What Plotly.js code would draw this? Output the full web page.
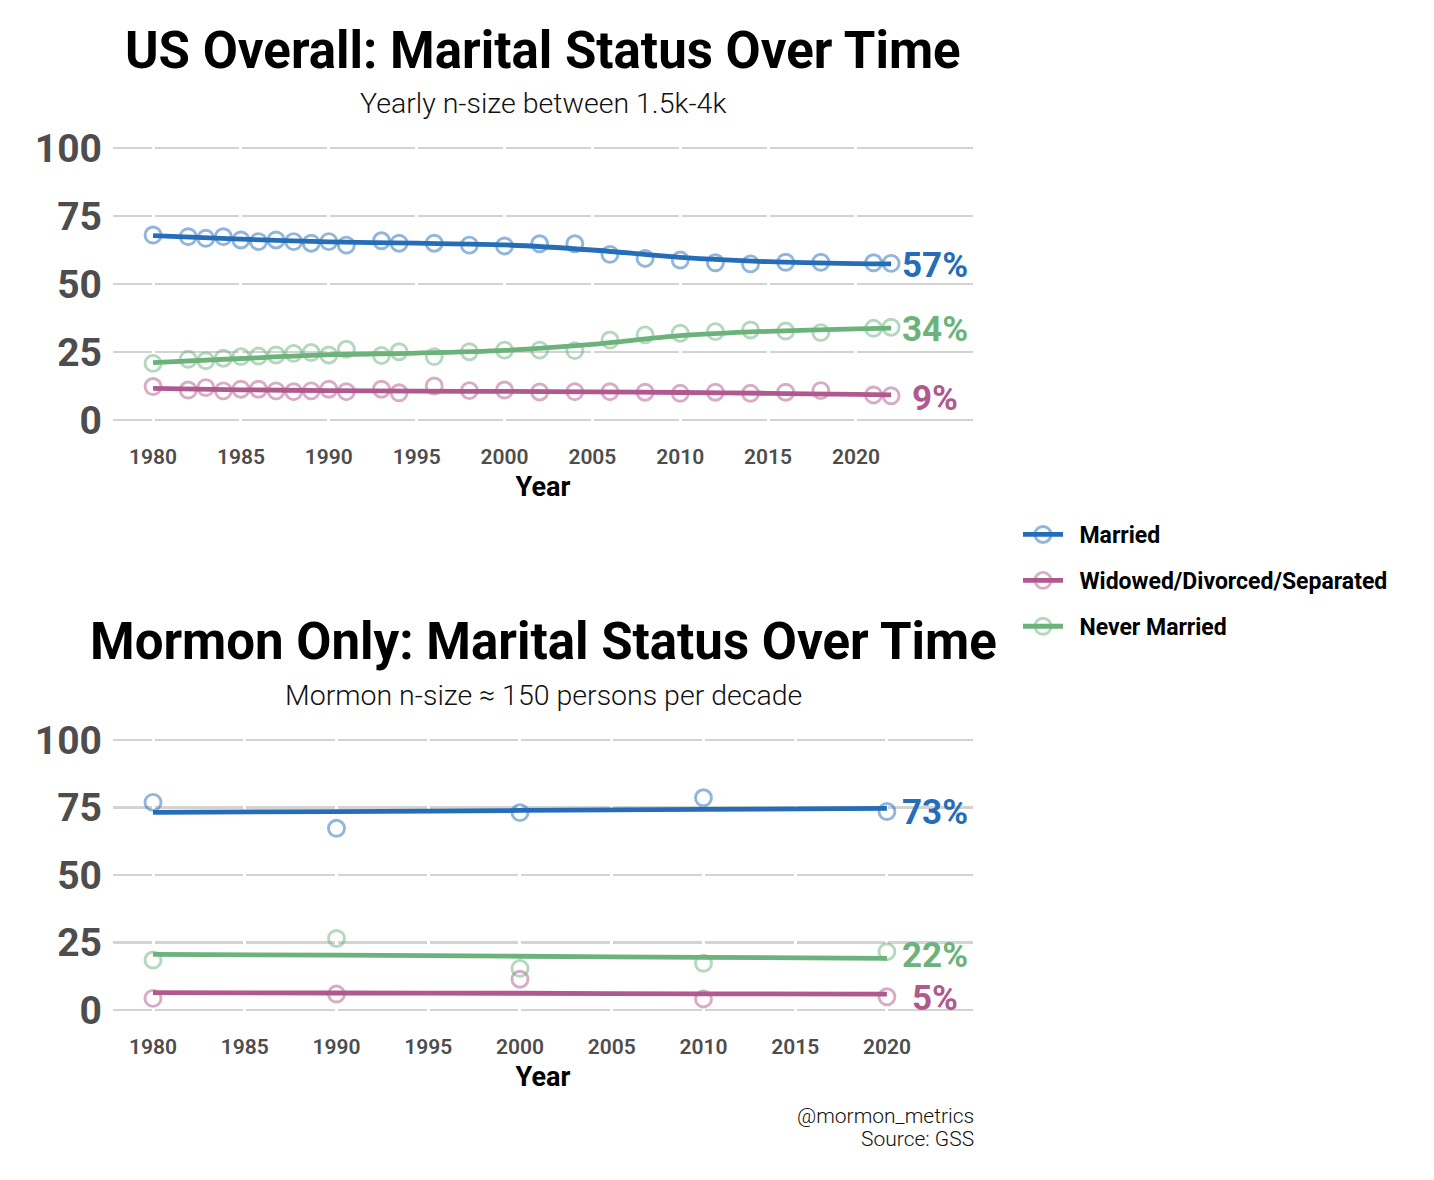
<!DOCTYPE html>
<html>
<head>
<meta charset="utf-8">
<script src="https://cdn.plot.ly/plotly-3.0.1.min.js"></script>
<style>html,body{margin:0;padding:0;background:#fff;}#chart{width:1434px;height:1180px;}</style>
</head>
<body>
<div id="chart"></div>
<script>
// ---------- DATA ----------
const seriesNames = ["Married", "Widowed/Divorced/Separated", "Never Married"];

// US overall (GSS yearly)
const usYears = [1980,1982,1983,1984,1985,1986,1987,1988,1989,1990,1991,1993,1994,1996,1998,2000,2002,2004,2006,2008,2010,2012,2014,2016,2018,2021,2022];
const usMarried = [68.0,67.4,66.8,67.4,66.2,65.6,66.2,65.6,65.0,65.6,64.3,65.9,65.0,65.0,64.3,64.0,64.8,64.8,60.9,59.4,58.8,57.8,57.4,58.0,58.0,57.8,57.6];
const usWidowed = [12.3,11.0,11.9,10.7,11.3,11.3,10.7,10.4,10.7,11.3,10.4,11.3,10.0,12.5,10.8,11.0,10.3,10.4,10.4,10.2,9.8,10.2,9.8,10.2,10.8,9.2,8.9];
const usNever = [20.8,22.3,21.8,22.7,23.3,23.5,23.9,24.5,24.8,23.9,26.0,23.7,25.1,23.3,25.1,25.7,25.7,25.5,29.4,31.3,31.9,32.5,33.1,32.7,32.1,33.7,34.1];

// US smoothed trend lines
const usTrendYears = [1980,1985,1990,1995,2000,2005,2010,2015,2020,2022];
const usMarriedTrend = [67.8,66.5,65.5,65.0,64.4,62.5,59.8,58.2,57.5,57.4];
const usWidowedTrend = [11.6,11.1,10.8,10.6,10.5,10.3,10.1,9.8,9.4,9.2];
const usNeverTrend = [21.1,22.6,24.0,24.6,25.6,27.8,31.0,32.6,33.5,33.8];
const usEndLabels = ["57%", "9%", "34%"];

// Mormon only (per decade)
const moYears = [1980,1990,2000,2010,2020];
const moMarried = [76.9,67.3,73.1,78.6,73.5];
const moWidowed = [4.3,5.9,11.4,4.1,4.9];
const moNever = [18.5,26.5,15.4,17.3,21.6];
const moMarriedTrend = [73.2,73.5,73.9,74.3,74.7];
const moWidowedTrend = [6.4,6.3,6.2,6.0,5.9];
const moNeverTrend = [20.6,20.3,19.9,19.5,19.1];
const moEndLabels = ["73%", "5%", "22%"];

const xTicks = [1980,1985,1990,1995,2000,2005,2010,2015,2020];
const yTicks = [0,25,50,75,100];

// ---------- STYLE ----------
const lineColors = ["#266db8", "#b0598f", "#6cb27b"];
const markerColors = ["rgba(38,109,184,0.5)", "rgba(176,89,143,0.5)", "rgba(108,178,123,0.5)"];
const FONT = "Roboto, 'Open Sans', sans-serif";

const traces = [];
function addPanel(xa, ya, years, pts, trendYears, trends) {
  pts.forEach((vals, i) => {
    traces.push({x: years, y: vals, xaxis: xa, yaxis: ya, type: "scatter", mode: "markers",
      marker: {symbol: "circle-open", size: 16, color: markerColors[i], line: {width: 2.9, color: markerColors[i]}},
      showlegend: false, hoverinfo: "skip"});
  });
  trends.forEach((vals, i) => {
    traces.push({x: trendYears, y: vals, xaxis: xa, yaxis: ya, type: "scatter", mode: "lines",
      line: {color: lineColors[i], width: 4.8, shape: "spline", smoothing: 0.8},
      showlegend: false, hoverinfo: "skip"});
  });
}
addPanel("x", "y", usYears, [usMarried, usWidowed, usNever], usTrendYears, [usMarriedTrend, usWidowedTrend, usNeverTrend]);
addPanel("x2", "y2", moYears, [moMarried, moWidowed, moNever], moYears, [moMarriedTrend, moWidowedTrend, moNeverTrend]);

// legend entries
seriesNames.forEach((n, i) => {
  traces.push({x: [null], y: [null], xaxis: "x", yaxis: "y", type: "scatter", mode: "lines+markers",
    name: "\u00a0\u00a0" + n, legendgroup: "g" + i,
    line: {color: lineColors[i], width: 4.8},
    marker: {symbol: "circle-open", size: 16, color: markerColors[i], line: {width: 2.9, color: markerColors[i]}}});
});

const annotations = [];
function endLabels(xa, ya, trendYears, trends, labels, offset, shifts) {
  trends.forEach((vals, i) => {
    annotations.push({xref: xa, yref: ya, x: trendYears[trendYears.length - 1] + offset, y: vals[vals.length - 1],
      text: labels[i], showarrow: false, xanchor: "center", yanchor: "middle", yshift: shifts[i],
      font: {family: FONT, size: 35, color: lineColors[i], weight: "bold"}});
  });
}
endLabels("x", "y", usTrendYears, [usMarriedTrend, usWidowedTrend, usNeverTrend], usEndLabels, 2.5, [-2, -4, -1]);
endLabels("x2", "y2", moYears, [moMarriedTrend, moWidowedTrend, moNeverTrend], moEndLabels, 2.6, [-4, -4, 3]);

const cx = 543 / 1434;
function titleBlock(title, sub, subSize, yTitle, ySub) {
  annotations.push({xref: "paper", yref: "paper", x: cx, y: yTitle, text: title, showarrow: false,
    xanchor: "center", yanchor: "middle", font: {family: FONT, size: 51, color: "#000", weight: "bold"}});
  annotations.push({xref: "paper", yref: "paper", x: cx, y: ySub, text: sub, showarrow: false,
    xanchor: "center", yanchor: "middle", font: {family: FONT, size: subSize, color: "#111", weight: 300}});
}
titleBlock("US Overall: Marital Status Over Time", "Yearly n-size between 1.5k-4k", 28.5, 1 - 50 / 1180, 1 - 104 / 1180);
titleBlock("Mormon Only: Marital Status Over Time", "Mormon n-size ≈ 150 persons per decade", 28.5, 1 - 641 / 1180, 1 - 695 / 1180);
[["@mormon_metrics", 1116], ["Source: GSS", 1139]].forEach(([t, py]) => {
  annotations.push({xref: "paper", yref: "paper", x: 976 / 1434, y: 1 - py / 1180, text: t,
    showarrow: false, xanchor: "right", yanchor: "middle", align: "right",
    font: {family: FONT, size: 21, color: "#111", weight: 300}});
});

// horizontal gridlines are interrupted by small white gaps at each x tick
function gridDash(range, widthPx, ticks, gap) {
  const scale = widthPx / (range[1] - range[0]);
  const segs = [];
  let pos = 0;
  ticks.forEach(t => {
    const a = Math.round((t - range[0]) * scale - gap / 2);
    segs.push(a - pos, gap);
    pos = a + gap;
  });
  segs.push(3000);
  return segs.map(v => v + "px").join(",");
}

const xLeft = 113, xRight = 973;
const xr1 = [1977.72, 2026.66], xr2 = [1977.82, 2024.69];
function xaxis(range, anchor) {
  return {domain: [xLeft / 1434, xRight / 1434], range: range, anchor: anchor, tickvals: xTicks, ticks: "",
    showgrid: false, zeroline: false, showline: false, ticklabelstandoff: 17,
    tickfont: {family: FONT, size: 21, color: "#4d4d4d", weight: 600},
    title: {text: "Year", font: {family: FONT, size: 27, color: "#000", weight: "bold"}, standoff: 8}, fixedrange: true};
}
function yaxis(dom, anchor, dash) {
  return {domain: dom, range: [-2, 102], anchor: anchor, tickvals: yTicks, ticks: "", showgrid: true,
    gridcolor: "#d3d3d3", gridwidth: 2.2, griddash: dash, zeroline: false, showline: false, ticklabelstandoff: 10,
    tickfont: {family: FONT, size: 39, color: "#4d4d4d", weight: "bold"}, fixedrange: true};
}
const layout = {
  width: 1434, height: 1180, margin: {l: 0, r: 0, t: 0, b: 0}, paper_bgcolor: "#fff", plot_bgcolor: "#fff",
  showlegend: true,
  legend: {x: 1018 / 1434, y: 1 - 513 / 1180, xanchor: "left", yanchor: "top", tracegroupgap: 13, itemwidth: 40,
    font: {family: FONT, size: 23, color: "#000", weight: "bold"}, bgcolor: "rgba(0,0,0,0)"},
  xaxis: xaxis(xr1, "y"),
  yaxis: yaxis([1 - 425.4 / 1180, 1 - 142.6 / 1180], "x", gridDash(xr1, xRight - xLeft, xTicks, 3)),
  xaxis2: xaxis(xr2, "y2"),
  yaxis2: yaxis([1 - 1015.4 / 1180, 1 - 734.6 / 1180], "x2", gridDash(xr2, xRight - xLeft, xTicks, 3)),
  annotations: annotations
};
Plotly.newPlot("chart", traces, layout, {displayModeBar: false, staticPlot: true});
</script>
</body>
</html>
